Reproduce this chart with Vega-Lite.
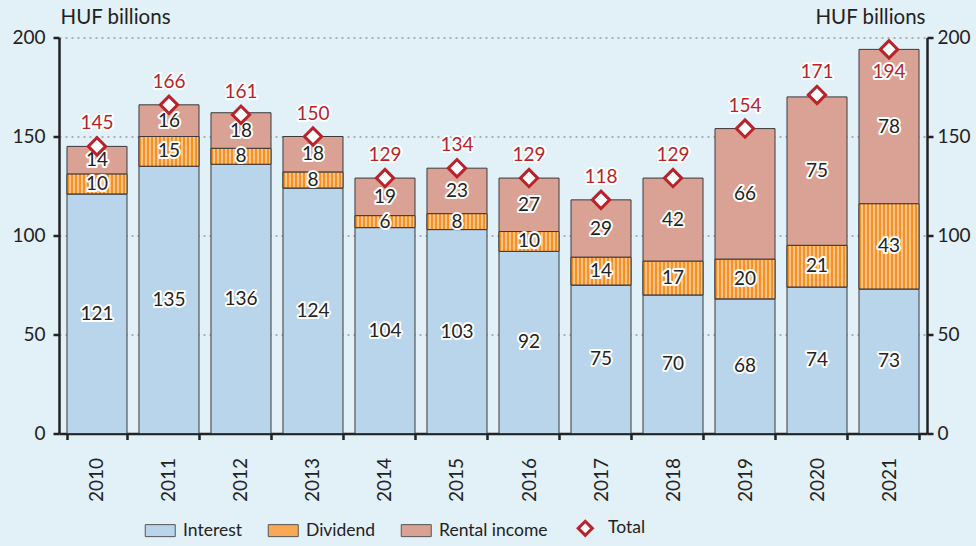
{
  "$schema": "https://vega.github.io/schema/vega-lite/v6.json",
  "autosize": {"type": "none"},
  "width": 868,
  "height": 396,
  "padding": {"left": 59, "top": 37.5, "right": 49, "bottom": 112.5},
  "background": "#e2f0f8",
  "config": {"view": {"stroke": null}, "font": "Lato", "text": {"font": "Lato"}},
  "datasets": {
    "seg": [
      {"year": "2010", "series": "Interest", "value": 121, "ord": 1},
      {"year": "2010", "series": "Dividend", "value": 10, "ord": 2},
      {"year": "2010", "series": "Rental income", "value": 14, "ord": 3},
      {"year": "2011", "series": "Interest", "value": 135, "ord": 1},
      {"year": "2011", "series": "Dividend", "value": 15, "ord": 2},
      {"year": "2011", "series": "Rental income", "value": 16, "ord": 3},
      {"year": "2012", "series": "Interest", "value": 136, "ord": 1},
      {"year": "2012", "series": "Dividend", "value": 8, "ord": 2},
      {"year": "2012", "series": "Rental income", "value": 18, "ord": 3},
      {"year": "2013", "series": "Interest", "value": 124, "ord": 1},
      {"year": "2013", "series": "Dividend", "value": 8, "ord": 2},
      {"year": "2013", "series": "Rental income", "value": 18, "ord": 3},
      {"year": "2014", "series": "Interest", "value": 104, "ord": 1},
      {"year": "2014", "series": "Dividend", "value": 6, "ord": 2},
      {"year": "2014", "series": "Rental income", "value": 19, "ord": 3},
      {"year": "2015", "series": "Interest", "value": 103, "ord": 1},
      {"year": "2015", "series": "Dividend", "value": 8, "ord": 2},
      {"year": "2015", "series": "Rental income", "value": 23, "ord": 3},
      {"year": "2016", "series": "Interest", "value": 92, "ord": 1},
      {"year": "2016", "series": "Dividend", "value": 10, "ord": 2},
      {"year": "2016", "series": "Rental income", "value": 27, "ord": 3},
      {"year": "2017", "series": "Interest", "value": 75, "ord": 1},
      {"year": "2017", "series": "Dividend", "value": 14, "ord": 2},
      {"year": "2017", "series": "Rental income", "value": 29, "ord": 3},
      {"year": "2018", "series": "Interest", "value": 70, "ord": 1},
      {"year": "2018", "series": "Dividend", "value": 17, "ord": 2},
      {"year": "2018", "series": "Rental income", "value": 42, "ord": 3},
      {"year": "2019", "series": "Interest", "value": 68, "ord": 1},
      {"year": "2019", "series": "Dividend", "value": 20, "ord": 2},
      {"year": "2019", "series": "Rental income", "value": 66, "ord": 3},
      {"year": "2020", "series": "Interest", "value": 74, "ord": 1},
      {"year": "2020", "series": "Dividend", "value": 21, "ord": 2},
      {"year": "2020", "series": "Rental income", "value": 75, "ord": 3},
      {"year": "2021", "series": "Interest", "value": 73, "ord": 1},
      {"year": "2021", "series": "Dividend", "value": 43, "ord": 2},
      {"year": "2021", "series": "Rental income", "value": 78, "ord": 3}
    ],
    "tot": [
      {"year": "2010", "total": 145},
      {"year": "2011", "total": 166},
      {"year": "2012", "total": 161},
      {"year": "2013", "total": 150},
      {"year": "2014", "total": 129},
      {"year": "2015", "total": 134},
      {"year": "2016", "total": 129},
      {"year": "2017", "total": 118},
      {"year": "2018", "total": 129},
      {"year": "2019", "total": 154},
      {"year": "2020", "total": 171},
      {"year": "2021", "total": 194}
    ]
  },
  "encoding": {
    "x": {
      "field": "year", "type": "nominal", "title": null,
      "scale": {"paddingInner": 0.1667, "paddingOuter": 0.111},
      "axis": {
        "labelAngle": -90, "labelAlign": "right", "labelBaseline": "middle",
        "labelFontSize": 19, "labelColor": "#222", "labelPadding": 18,
        "tickBand": "extent", "tickSize": 6, "tickWidth": 2.5, "tickColor": "#222",
        "domainColor": "#222", "domainWidth": 2.5, "grid": false
      }
    }
  },
  "layer": [
    {
      "data": {"name": "seg"},
      "mark": {"type": "bar", "stroke": "#3a3a3a", "strokeWidth": 1},
      "encoding": {
        "y": {
          "field": "value", "type": "quantitative", "stack": "zero",
          "scale": {"domain": [0, 200], "nice": false},
          "axis": {
            "orient": "left", "values": [0, 50, 100, 150, 200],
            "title": "HUF billions", "titleAngle": 0, "titleAlign": "left", "titleBaseline": "alphabetic",
            "titleX": 1, "titleY": -14, "titleFontSize": 20.5, "titleFontWeight": "normal", "titleColor": "#222", "titleFont": "Lato",
            "labelFontSize": 19, "labelColor": "#222", "labelPadding": 8,
            "tickSize": 6, "tickWidth": 2.5, "tickColor": "#222",
            "domainColor": "#222", "domainWidth": 2.5,
            "grid": true, "gridColor": "#9a9a9a", "gridDash": [2, 4], "gridWidth": 1.3
          }
        },
        "order": {"field": "ord", "type": "quantitative"},
        "color": {
          "field": "series", "type": "nominal",
          "scale": {"domain": ["Interest", "Dividend", "Rental income", "Total"], "range": ["#b9d5ec", "#f9a856", "#daa294", "#ffffff"]},
          "legend": {
            "orient": "none", "legendX": 92.5, "legendY": 482, "direction": "horizontal", "title": null,
            "labelFontSize": 17.5, "labelColor": "#222", "labelFont": "Lato",
            "symbolType": "M-1,-0.4H1V0.4H-1Z", "symbolSize": 900, "symbolStrokeColor": "#555", "symbolStrokeWidth": 1,
            "labelOffset": 14, "columnPadding": 23,
            "encode": {
              "symbols": {
                "update": {
                  "shape": {"signal": "datum.value === 'Total' ? 'M0,-0.47L0.47,0L0,0.47L-0.47,0Z' : 'M-1,-0.4H1V0.4H-1Z'"},
                  "stroke": {"signal": "datum.value === 'Total' ? '#b8232b' : '#555555'"},
                  "strokeWidth": {"signal": "datum.value === 'Total' ? 3 : 1"},
                  "fill": {"signal": "datum.value === 'Dividend' ? {gradient: 'linear', x1: 0, y1: 0, x2: 1, y2: 0, stops: [{offset: 0, color: '#f7901e'}, {offset: 0.0625, color: '#f7901e'}, {offset: 0.0625, color: '#fcc48c'}, {offset: 0.125, color: '#fcc48c'}, {offset: 0.125, color: '#f7901e'}, {offset: 0.1875, color: '#f7901e'}, {offset: 0.1875, color: '#fcc48c'}, {offset: 0.25, color: '#fcc48c'}, {offset: 0.25, color: '#f7901e'}, {offset: 0.3125, color: '#f7901e'}, {offset: 0.3125, color: '#fcc48c'}, {offset: 0.375, color: '#fcc48c'}, {offset: 0.375, color: '#f7901e'}, {offset: 0.4375, color: '#f7901e'}, {offset: 0.4375, color: '#fcc48c'}, {offset: 0.5, color: '#fcc48c'}, {offset: 0.5, color: '#f7901e'}, {offset: 0.5625, color: '#f7901e'}, {offset: 0.5625, color: '#fcc48c'}, {offset: 0.625, color: '#fcc48c'}, {offset: 0.625, color: '#f7901e'}, {offset: 0.6875, color: '#f7901e'}, {offset: 0.6875, color: '#fcc48c'}, {offset: 0.75, color: '#fcc48c'}, {offset: 0.75, color: '#f7901e'}, {offset: 0.8125, color: '#f7901e'}, {offset: 0.8125, color: '#fcc48c'}, {offset: 0.875, color: '#fcc48c'}, {offset: 0.875, color: '#f7901e'}, {offset: 0.9375, color: '#f7901e'}, {offset: 0.9375, color: '#fcc48c'}, {offset: 1, color: '#fcc48c'}]} : scale('color', datum.value)"}
                }
              }
            }
          }
        }
      }
    },
    {
      "data": {"name": "seg"},
      "transform": [
        {"stack": "value", "groupby": ["year"], "sort": [{"field": "ord"}], "as": ["y0", "y1"]},
        {"filter": "datum.series === 'Dividend'"}
      ],
      "mark": {
        "type": "bar", "stroke": "#3a3a3a", "strokeWidth": 1,
        "fill": {
          "gradient": "linear", "x1": 0, "y1": 0, "x2": 1, "y2": 0,
          "stops": [
            {"offset": 0, "color": "#f7901e"}, {"offset": 0.0333, "color": "#f7901e"}, {"offset": 0.0333, "color": "#fcc48c"}, {"offset": 0.0667, "color": "#fcc48c"},
            {"offset": 0.0667, "color": "#f7901e"}, {"offset": 0.1, "color": "#f7901e"}, {"offset": 0.1, "color": "#fcc48c"}, {"offset": 0.1333, "color": "#fcc48c"},
            {"offset": 0.1333, "color": "#f7901e"}, {"offset": 0.1667, "color": "#f7901e"}, {"offset": 0.1667, "color": "#fcc48c"}, {"offset": 0.2, "color": "#fcc48c"},
            {"offset": 0.2, "color": "#f7901e"}, {"offset": 0.2333, "color": "#f7901e"}, {"offset": 0.2333, "color": "#fcc48c"}, {"offset": 0.2667, "color": "#fcc48c"},
            {"offset": 0.2667, "color": "#f7901e"}, {"offset": 0.3, "color": "#f7901e"}, {"offset": 0.3, "color": "#fcc48c"}, {"offset": 0.3333, "color": "#fcc48c"},
            {"offset": 0.3333, "color": "#f7901e"}, {"offset": 0.3667, "color": "#f7901e"}, {"offset": 0.3667, "color": "#fcc48c"}, {"offset": 0.4, "color": "#fcc48c"},
            {"offset": 0.4, "color": "#f7901e"}, {"offset": 0.4333, "color": "#f7901e"}, {"offset": 0.4333, "color": "#fcc48c"}, {"offset": 0.4667, "color": "#fcc48c"},
            {"offset": 0.4667, "color": "#f7901e"}, {"offset": 0.5, "color": "#f7901e"}, {"offset": 0.5, "color": "#fcc48c"}, {"offset": 0.5333, "color": "#fcc48c"},
            {"offset": 0.5333, "color": "#f7901e"}, {"offset": 0.5667, "color": "#f7901e"}, {"offset": 0.5667, "color": "#fcc48c"}, {"offset": 0.6, "color": "#fcc48c"},
            {"offset": 0.6, "color": "#f7901e"}, {"offset": 0.6333, "color": "#f7901e"}, {"offset": 0.6333, "color": "#fcc48c"}, {"offset": 0.6667, "color": "#fcc48c"},
            {"offset": 0.6667, "color": "#f7901e"}, {"offset": 0.7, "color": "#f7901e"}, {"offset": 0.7, "color": "#fcc48c"}, {"offset": 0.7333, "color": "#fcc48c"},
            {"offset": 0.7333, "color": "#f7901e"}, {"offset": 0.7667, "color": "#f7901e"}, {"offset": 0.7667, "color": "#fcc48c"}, {"offset": 0.8, "color": "#fcc48c"},
            {"offset": 0.8, "color": "#f7901e"}, {"offset": 0.8333, "color": "#f7901e"}, {"offset": 0.8333, "color": "#fcc48c"}, {"offset": 0.8667, "color": "#fcc48c"},
            {"offset": 0.8667, "color": "#f7901e"}, {"offset": 0.9, "color": "#f7901e"}, {"offset": 0.9, "color": "#fcc48c"}, {"offset": 0.9333, "color": "#fcc48c"},
            {"offset": 0.9333, "color": "#f7901e"}, {"offset": 0.9667, "color": "#f7901e"}, {"offset": 0.9667, "color": "#fcc48c"}, {"offset": 1, "color": "#fcc48c"}
          ]
        }
      },
      "encoding": {
        "y": {"field": "y0", "type": "quantitative", "axis": null},
        "y2": {"field": "y1"}
      }
    },
    {
      "data": {"name": "seg"},
      "mark": {"type": "text", "fontSize": 19, "font": "Lato", "stroke": "#ffffff", "strokeWidth": 4, "strokeJoin": "round", "fill": "#ffffff", "baseline": "middle"},
      "encoding": {
        "y": {"field": "value", "type": "quantitative", "stack": "zero", "bandPosition": 0.5, "axis": null},
        "order": {"field": "ord", "type": "quantitative"},
        "detail": {"field": "series", "type": "nominal"},
        "text": {"field": "value", "type": "quantitative"}
      }
    },
    {
      "data": {"name": "seg"},
      "mark": {"type": "text", "fontSize": 19, "font": "Lato", "fill": "#222222", "baseline": "middle"},
      "encoding": {
        "y": {"field": "value", "type": "quantitative", "stack": "zero", "bandPosition": 0.5, "axis": null},
        "order": {"field": "ord", "type": "quantitative"},
        "detail": {"field": "series", "type": "nominal"},
        "text": {"field": "value", "type": "quantitative"}
      }
    },
    {
      "data": {"name": "tot"},
      "mark": {"type": "point", "shape": "diamond", "filled": true, "fill": "#ffffff", "stroke": "#b8232b", "strokeWidth": 3, "size": 300, "opacity": 1},
      "encoding": {
        "y": {
          "field": "total", "type": "quantitative",
          "axis": {
            "orient": "right", "values": [0, 50, 100, 150, 200],
            "title": "HUF billions", "titleAngle": 0, "titleAlign": "right", "titleBaseline": "alphabetic",
            "titleX": -2, "titleY": -14, "titleFontSize": 20.5, "titleFontWeight": "normal", "titleColor": "#222", "titleFont": "Lato",
            "labelFontSize": 19, "labelColor": "#222", "labelPadding": 4,
            "tickSize": 6, "tickWidth": 2.5, "tickColor": "#222",
            "domainColor": "#222", "domainWidth": 2.5, "grid": false
          }
        }
      }
    },
    {
      "data": {"name": "tot"},
      "transform": [{"filter": "datum.year !== '2021'"}],
      "mark": {"type": "text", "fontSize": 19, "font": "Lato", "stroke": "#ffffff", "strokeWidth": 4, "strokeJoin": "round", "fill": "#ffffff", "baseline": "middle", "dy": -23},
      "encoding": {"y": {"field": "total", "type": "quantitative", "axis": null}, "text": {"field": "total", "type": "quantitative"}}
    },
    {
      "data": {"name": "tot"},
      "transform": [{"filter": "datum.year !== '2021'"}],
      "mark": {"type": "text", "fontSize": 19, "font": "Lato", "fill": "#b8232b", "baseline": "middle", "dy": -23},
      "encoding": {"y": {"field": "total", "type": "quantitative", "axis": null}, "text": {"field": "total", "type": "quantitative"}}
    },
    {
      "data": {"name": "tot"},
      "transform": [{"filter": "datum.year === '2021'"}],
      "mark": {"type": "text", "fontSize": 19, "font": "Lato", "stroke": "#ffffff", "strokeWidth": 4, "strokeJoin": "round", "fill": "#ffffff", "baseline": "middle", "dy": 23},
      "encoding": {"y": {"field": "total", "type": "quantitative", "axis": null}, "text": {"field": "total", "type": "quantitative"}}
    },
    {
      "data": {"name": "tot"},
      "transform": [{"filter": "datum.year === '2021'"}],
      "mark": {"type": "text", "fontSize": 19, "font": "Lato", "fill": "#b8232b", "baseline": "middle", "dy": 23},
      "encoding": {"y": {"field": "total", "type": "quantitative", "axis": null}, "text": {"field": "total", "type": "quantitative"}}
    }
  ],
  "resolve": {"axis": {"y": "independent"}}
}
